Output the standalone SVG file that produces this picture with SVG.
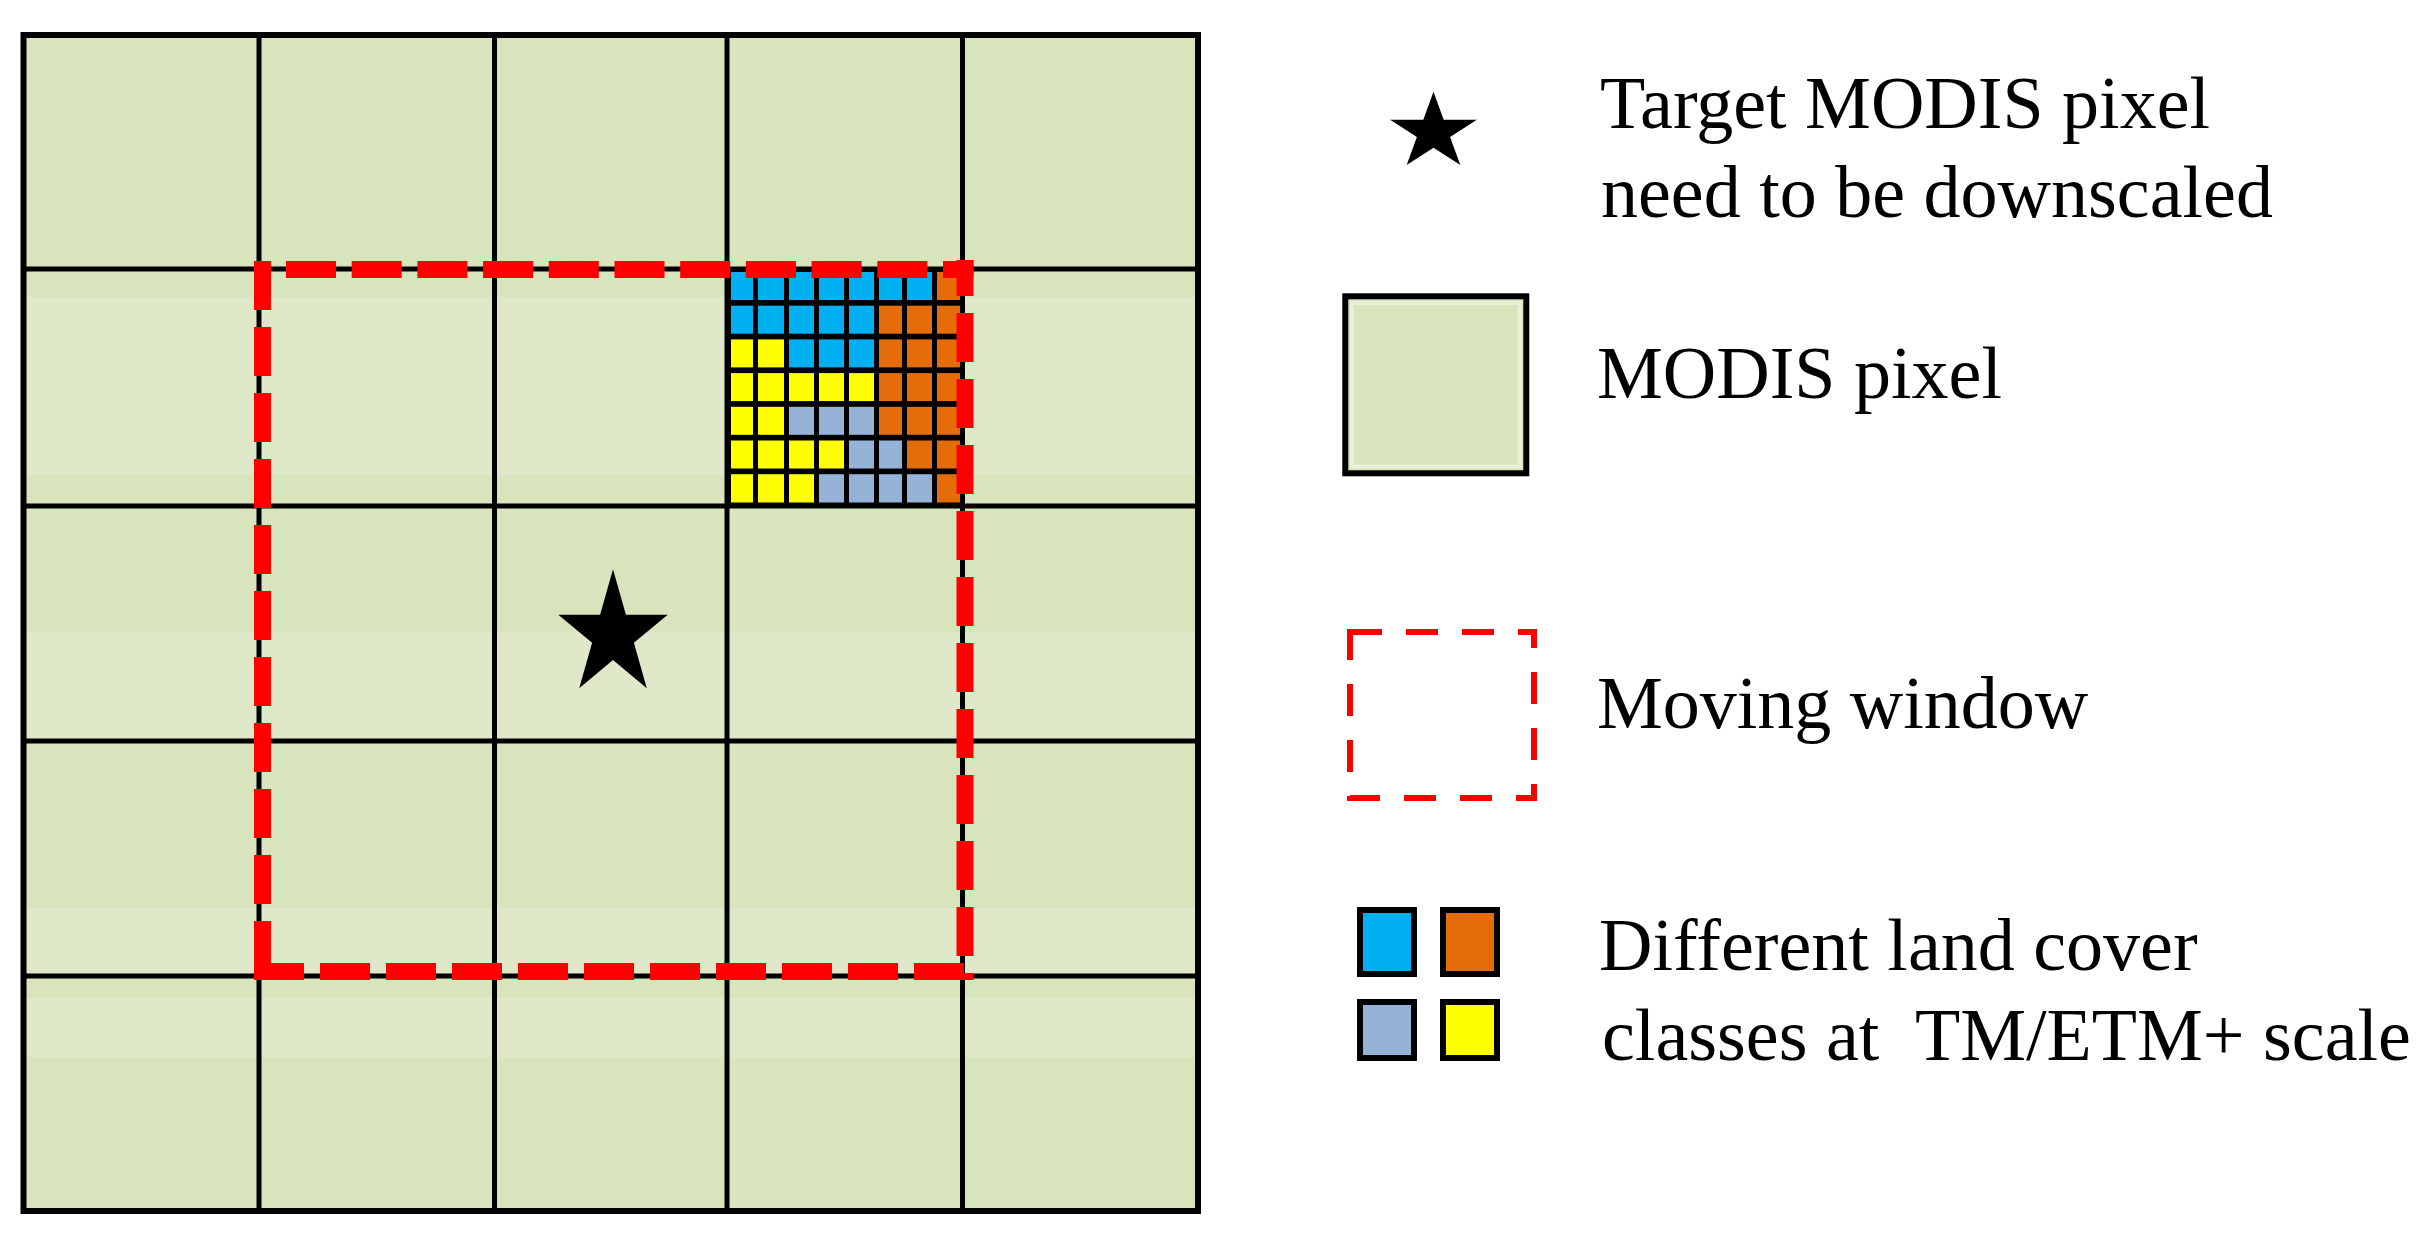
<svg xmlns="http://www.w3.org/2000/svg" width="2424" height="1233" viewBox="0 0 2424 1233">
<style>
.cell{fill:#D8E4BC}
.band{fill:#DFE8C9}
.gl{stroke:#000;stroke-width:5;fill:none}
.outer{stroke:#000;stroke-width:6;fill:none}
.win{stroke:#FF0000;stroke-width:17;fill:none}
.B{fill:#00B0F0}.O{fill:#E46C0A}.Y{fill:#FFFF00}.G{fill:#95B3D7}
.lbl{font-family:"Liberation Serif","Times New Roman",serif;font-size:74px;fill:#000;white-space:pre}
.sw{stroke:#000;stroke-width:6}
</style>
<rect width="2424" height="1233" fill="#fff"/>
<g id="modis-grid">
  <rect class="cell" x="23" y="35" width="1175" height="1176"/>
  <g id="artifact-bands">
    <rect class="band" x="26" y="297" width="1169" height="178"/>
    <rect class="band" x="26" y="632" width="1169" height="108"/>
    <rect class="band" x="26" y="908" width="1169" height="65"/>
    <rect class="band" x="26" y="998" width="1169" height="59"/>
  </g>
  <g id="fine-pixels">
    <rect x="727" y="269" width="236" height="237" fill="#000"/>
    <rect class="B" x="731" y="272" width="22" height="28"/><rect class="B" x="758" y="272" width="26" height="28"/><rect class="B" x="789" y="272" width="25" height="28"/><rect class="B" x="819" y="272" width="25" height="28"/><rect class="B" x="849" y="272" width="25" height="28"/><rect class="B" x="879" y="272" width="23" height="28"/><rect class="B" x="907" y="272" width="25" height="28"/><rect class="O" x="937" y="272" width="23" height="28"/>
    <rect class="B" x="731" y="305.7" width="22" height="28"/><rect class="B" x="758" y="305.7" width="26" height="28"/><rect class="B" x="789" y="305.7" width="25" height="28"/><rect class="B" x="819" y="305.7" width="25" height="28"/><rect class="B" x="849" y="305.7" width="25" height="28"/><rect class="O" x="879" y="305.7" width="23" height="28"/><rect class="O" x="907" y="305.7" width="25" height="28"/><rect class="O" x="937" y="305.7" width="23" height="28"/>
    <rect class="Y" x="731" y="339.4" width="22" height="28"/><rect class="Y" x="758" y="339.4" width="26" height="28"/><rect class="B" x="789" y="339.4" width="25" height="28"/><rect class="B" x="819" y="339.4" width="25" height="28"/><rect class="B" x="849" y="339.4" width="25" height="28"/><rect class="O" x="879" y="339.4" width="23" height="28"/><rect class="O" x="907" y="339.4" width="25" height="28"/><rect class="O" x="937" y="339.4" width="23" height="28"/>
    <rect class="Y" x="731" y="373.1" width="22" height="28"/><rect class="Y" x="758" y="373.1" width="26" height="28"/><rect class="Y" x="789" y="373.1" width="25" height="28"/><rect class="Y" x="819" y="373.1" width="25" height="28"/><rect class="Y" x="849" y="373.1" width="25" height="28"/><rect class="O" x="879" y="373.1" width="23" height="28"/><rect class="O" x="907" y="373.1" width="25" height="28"/><rect class="O" x="937" y="373.1" width="23" height="28"/>
    <rect class="Y" x="731" y="406.8" width="22" height="28"/><rect class="Y" x="758" y="406.8" width="26" height="28"/><rect class="G" x="789" y="406.8" width="25" height="28"/><rect class="G" x="819" y="406.8" width="25" height="28"/><rect class="G" x="849" y="406.8" width="25" height="28"/><rect class="O" x="879" y="406.8" width="23" height="28"/><rect class="O" x="907" y="406.8" width="25" height="28"/><rect class="O" x="937" y="406.8" width="23" height="28"/>
    <rect class="Y" x="731" y="440.5" width="22" height="28"/><rect class="Y" x="758" y="440.5" width="26" height="28"/><rect class="Y" x="789" y="440.5" width="25" height="28"/><rect class="Y" x="819" y="440.5" width="25" height="28"/><rect class="G" x="849" y="440.5" width="25" height="28"/><rect class="G" x="879" y="440.5" width="23" height="28"/><rect class="O" x="907" y="440.5" width="25" height="28"/><rect class="O" x="937" y="440.5" width="23" height="28"/>
    <rect class="Y" x="731" y="474.2" width="22" height="28.3"/><rect class="Y" x="758" y="474.2" width="26" height="28.3"/><rect class="Y" x="789" y="474.2" width="25" height="28.3"/><rect class="G" x="819" y="474.2" width="25" height="28.3"/><rect class="G" x="849" y="474.2" width="25" height="28.3"/><rect class="G" x="879" y="474.2" width="23" height="28.3"/><rect class="G" x="907" y="474.2" width="25" height="28.3"/><rect class="O" x="937" y="474.2" width="23" height="28.3"/>
  </g>
  <g id="grid-lines">
    <path class="gl" d="M259,35V1211M494.5,35V1211M727,35V1211M962.5,35V1211M23,269H1198M23,506H1198M23,741H1198M23,976H1198"/>
    <rect class="outer" x="23.5" y="35" width="1174.5" height="1176"/>
  </g>
</g>
<g id="moving-window">
  <line class="win" x1="286" y1="269.5" x2="973.5" y2="269.5" stroke-dasharray="50 15.7"/>
  <line class="win" x1="262.5" y1="261" x2="262.5" y2="980" stroke-dasharray="49 17"/>
  <line class="win" x1="254" y1="971.5" x2="973.5" y2="971.5" stroke-dasharray="50 16"/>
  <line class="win" x1="965" y1="260" x2="965" y2="980" stroke-dasharray="49 17" stroke-dashoffset="13"/>
</g>
<g id="target-star">
  <polygon fill="#000" points="613,569.2 625.9,614.7 667.7,614.7 633.9,642.8 646.8,688.2 613,660.1 579.2,688.2 592.1,642.8 558.3,614.7 600.1,614.7"/>
</g>
<g id="legend">
  <g id="legend-star">
    <polygon fill="#000" points="1433.5,91.7 1443.7,119.7 1476.9,119.7 1450.1,137 1460.3,165 1433.5,147.7 1406.7,165 1416.9,137 1390.1,119.7 1423.3,119.7"/>
    <text class="lbl" x="1600" y="128">Target MODIS pixel</text>
    <text class="lbl" x="1601" y="217">need to be downscaled</text>
  </g>
  <g id="legend-modis">
    <rect x="1345.3" y="296.3" width="181" height="177" fill="#D8E4BC" stroke="#000" stroke-width="6"/>
    <rect x="1352" y="303" width="167.6" height="163.6" fill="none" stroke="#fff" stroke-opacity="0.45" stroke-width="4"/>
    <text class="lbl" x="1597" y="398">MODIS pixel</text>
  </g>
  <g id="legend-window">
    <rect x="1350" y="632" width="184" height="166" fill="#fff" stroke="#FF0000" stroke-width="6" stroke-dasharray="32 24"/>
    <text class="lbl" x="1597" y="728">Moving window</text>
  </g>
  <g id="legend-classes">
    <rect class="B sw" x="1360" y="910" width="54" height="64"/>
    <rect class="O sw" x="1443" y="910" width="54" height="64"/>
    <rect class="G sw" x="1360" y="1002" width="54" height="56"/>
    <rect class="Y sw" x="1443" y="1002" width="54" height="56"/>
    <text class="lbl" x="1599" y="970">Different land cover</text>
    <text class="lbl" x="1602" y="1060">classes at  TM/ETM+ scale</text>
  </g>
</g>
</svg>
